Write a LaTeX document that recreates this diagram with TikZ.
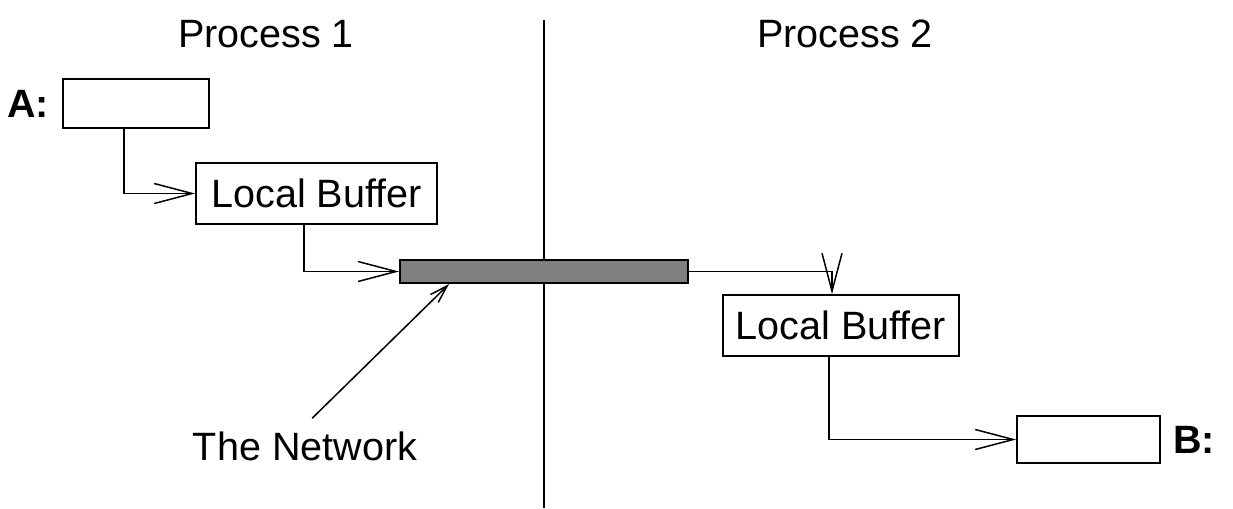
\documentclass[tikz,border=0pt]{standalone}
\usepackage{fontspec}
\setmainfont{Liberation Sans}
\usepackage{tikz}
\usetikzlibrary{arrows.meta, positioning}

\begin{document}
\begin{tikzpicture}[x=0.02cm, y=-0.02cm,
    every node/.style={font=\fontsize{22.5}{27}\selectfont},
    buffer/.style={rectangle, draw, line width=1pt, inner sep=0pt},
    network/.style={rectangle, draw, fill=black!50, line width=1.2pt, inner sep=0pt, minimum width=5.76cm, minimum height=0.46cm},
    varlabel/.style={font=\fontsize{22.5}{27}\selectfont\bfseries, inner sep=0pt},
    arrow/.style={-{Straight Barb[length=0.76cm, width=0.4cm]}, line width=0.85pt},
    pointer/.style={-{Straight Barb[length=0.36cm, width=0.22cm]}, line width=0.85pt}]

    \useasboundingbox (0,0) rectangle (1233,508);

    % Process headers and divider
    \node (proc1) at (266,34) {Process 1};
    \node (proc2) at (845,34) {Process 2};
    \draw[line width=0.6pt] (544,20) -- (544,508);

    % Process 1 side
    \node[buffer, minimum width=2.92cm, minimum height=0.98cm] (varA) at (136,103.5) {};
    \node[varlabel, left=0.26cm of varA] (labelA) {A:};
    \node[buffer, minimum width=4.82cm, minimum height=1.22cm] (lbuf1) at (316.5,193.5) {Local Buffer};

    % The network
    \node[network] (net) at (544,271.5) {};
    \node (netlabel) at (305,446) {The Network};

    % Process 2 side
    \node[buffer, minimum width=4.72cm, minimum height=1.22cm] (lbuf2) at (841,325.5) {Local Buffer};
    \node[buffer, minimum width=2.86cm, minimum height=0.94cm] (varB) at (1088.5,439.5) {};
    \node[varlabel, right=0.24cm of varB] (labelB) {B:};

    % Data path
    \draw[arrow] ([xshift=-0.24cm]varA.south) |- (lbuf1.west);
    \draw[arrow] ([xshift=-0.25cm]lbuf1.south) |- (net.west);
    \draw[arrow] (net.east) -| ([xshift=-0.18cm]lbuf2.north);
    \draw[arrow] ([xshift=-0.24cm]lbuf2.south) |- (varB.west);
    \draw[pointer, shorten <=0.2cm] (netlabel.north) -- ([xshift=-1.9cm]net.south);

\end{tikzpicture}
\end{document}
